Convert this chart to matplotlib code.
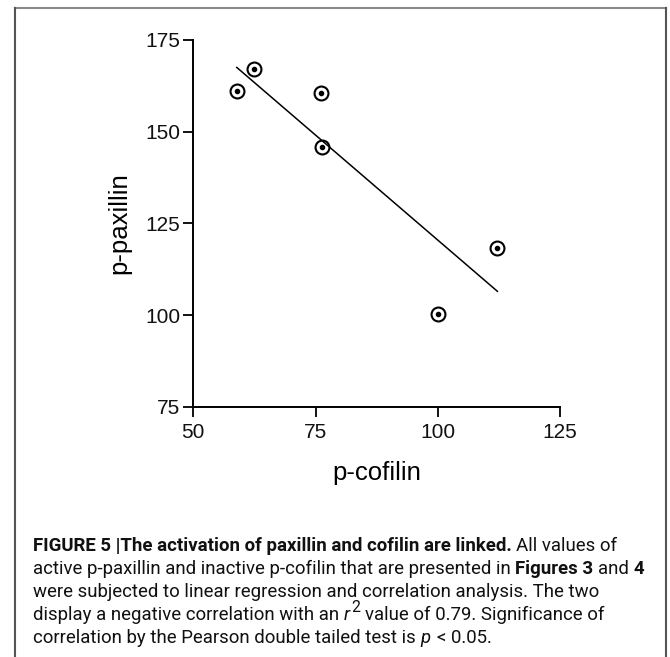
import numpy as np
import matplotlib
matplotlib.use("Agg")
import matplotlib.pyplot as plt
from matplotlib.lines import Line2D
from matplotlib import font_manager

# values
cofilin = [58.9, 62.4, 76.1, 76.3, 100.1, 112.2]
paxillin = [161.1, 167.2, 160.6, 145.9, 100.2, 118.2]
x_ticks = [50, 75, 100, 125]
y_ticks = [75, 100, 125, 150, 175]

caption = [
    [("FIGURE 5 |The activation of paxillin and cofilin are linked.", "bold"), (" All values of", "normal")],
    [("active p-paxillin and inactive p-cofilin that are presented in", "normal"), (" Figures 3", "bold"),
     (" and", "normal"), (" 4", "bold")],
    [("were subjected to linear regression and correlation analysis. The two", "normal")],
    [("display a negative correlation with an", "normal"), (" r", "italic"), ("2", "sup"),
     (" value of 0.79. Significance of", "normal")],
    [("correlation by the Pearson double tailed test is", "normal"), (" p", "italic"), (" < 0.05.", "normal")],
]

plt.rcParams["font.family"] = ["Liberation Sans", "DejaVu Sans"]

names = {f.name for f in font_manager.fontManager.ttflist}
cap_family = ["Roboto", "Liberation Sans"] if "Roboto" in names else ["Liberation Sans"]

W, H = 670, 657
fig = plt.figure(figsize=(W / 100, H / 100), dpi=100)
fig.patch.set_facecolor("white")

ax = fig.add_axes([193.3 / W, 1 - 406.7 / H, 366.7 / W, 366.7 / H])
ax.set_xlim(50, 125)
ax.set_ylim(75, 175)
ax.set_xticks(x_ticks)
ax.set_yticks(y_ticks)
for s in ["top", "right"]:
    ax.spines[s].set_visible(False)
for s in ["left", "bottom"]:
    ax.spines[s].set_linewidth(1.4)
ax.tick_params(length=7.5, width=1.4, direction="out", labelsize=15, colors="#111111")
ax.tick_params(axis="y", pad=2)
ax.tick_params(axis="x", pad=4)

ax.set_xlabel("p-cofilin", fontsize=18.5, va="baseline", ha="center")
ax.xaxis.set_label_coords(0.5, -0.2)
ax.set_ylabel("p-paxillin", fontsize=18.5, va="center", ha="center")
ax.yaxis.set_label_coords(-0.2026, 0.5)

ax.plot(cofilin, paxillin, "o", ms=10, mfc="none", mec="k", mew=1.5, clip_on=False)
ax.plot(cofilin, paxillin, "o", ms=3, color="k", clip_on=False)

slope, intercept = np.polyfit(cofilin, paxillin, 1)
xs = np.array([min(cofilin), max(cofilin)])
ax.plot(xs, slope * xs + intercept, color="k", lw=1.1)


# frame around the figure panel
def px_line(x0, y0, x1, y1, color):
    fig.add_artist(Line2D([x0 / W, x1 / W], [1 - y0 / H, 1 - y1 / H], transform=fig.transFigure,
                          color=color, lw=1.5))


px_line(15, 8, 666, 8, "#8a8a8a")
px_line(15, 8, 15, H + 2, "#555555")
px_line(666, 8, 666, H + 2, "#555555")

# caption, drawn piece by piece so bold/italic can mix in a line
renderer = fig.canvas.get_renderer()


def draw_caption(size):
    texts = []
    sp = fig.text(0, 0, "x x", fontsize=size, family=cap_family)
    nsp = fig.text(0, 0, "xx", fontsize=size, family=cap_family)
    space = sp.get_window_extent(renderer).width - nsp.get_window_extent(renderer).width
    sp.remove()
    nsp.remove()
    widths = []
    for i, line in enumerate(caption):
        x = 33.0
        base = 551 + i * 23.0
        for txt, style in line:
            if txt.startswith(" "):
                x += space
                txt = txt[1:]
            kw = dict(fontsize=size, color="#111111", family=cap_family)
            y = base
            if style == "bold":
                kw["fontweight"] = "bold"
            elif style == "italic":
                kw["fontstyle"] = "italic"
            elif style == "sup":
                kw["fontsize"] = size * 0.85
                y = base - size * 0.6
            t = fig.text(x / W, 1 - y / H, txt, va="baseline", ha="left", **kw)
            texts.append(t)
            x += t.get_window_extent(renderer).width
            if style == "italic":
                x += 1.5
        widths.append(x - 33.0)
    return texts, widths


texts, widths = draw_caption(11)
size = 11 * 607.0 / max(widths)
for t in texts:
    t.remove()
draw_caption(size)

fig.savefig("out.png", dpi=100, facecolor="white")
